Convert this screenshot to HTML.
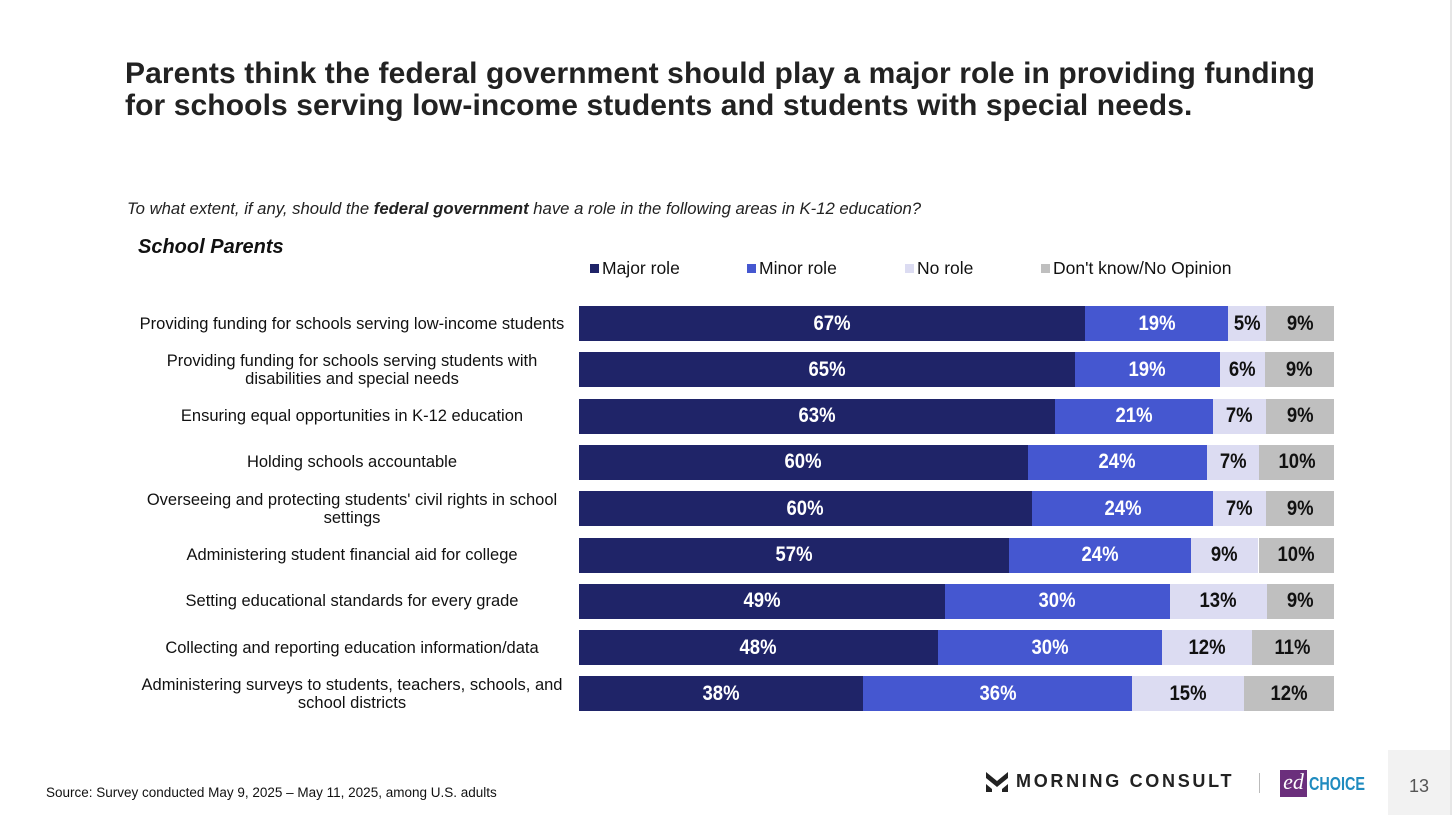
<!DOCTYPE html>
<html><head><meta charset="utf-8"><style>
body{margin:0;width:1456px;height:815px;background:#fff;font-family:"Liberation Sans",Arial,sans-serif;position:relative;overflow:hidden}
.abs{position:absolute}
.title{left:125px;top:58px;font-size:30px;font-weight:bold;color:#222;line-height:32px;white-space:nowrap;letter-spacing:0.1px}
.q{left:127px;top:199px;font-size:16.7px;font-style:italic;color:#222;white-space:nowrap}
.sub{left:138px;top:236px;font-size:20px;font-weight:bold;font-style:italic;color:#111}
.leg{top:258px;font-size:17.5px;color:#111;display:flex;align-items:center;white-space:nowrap}
.leg span{display:inline-block;width:9px;height:9px;margin-right:3px}
.cat{width:470px;left:117px;text-align:center;font-size:16.5px;color:#111;line-height:18px}
.seg{position:absolute;display:flex;align-items:center;justify-content:center;font-weight:bold;font-size:21px}
.seg i{font-style:normal;display:inline-block;transform:scaleX(0.88)}
</style></head><body>
<div class="abs title">Parents think the federal government should play a major role in providing funding<br>for schools serving low-income students and students with special needs.</div>
<div class="abs q">To what extent, if any, should the <b>federal government</b> have a role in the following areas in K-12 education?</div>
<div class="abs sub">School Parents</div>
<div class="abs leg" style="left:590px"><span style="background:#1f2468"></span>Major role</div>
<div class="abs leg" style="left:747px"><span style="background:#4557d0"></span>Minor role</div>
<div class="abs leg" style="left:905px"><span style="background:#dcdcf2"></span>No role</div>
<div class="abs leg" style="left:1041px"><span style="background:#bfbfbf"></span>Don't know/No Opinion</div>
<div id="chart"></div>
<div class="abs" style="left:46px;top:785px;font-size:13.5px;color:#111;white-space:nowrap">Source: Survey conducted May 9, 2025 – May 11, 2025, among U.S. adults</div>
<div class="abs" style="left:986px;top:771px;display:flex;align-items:center">
<svg width="22" height="20" viewBox="0 0 22 20"><path d="M0 0L11 9L22 0V6L11 15L0 6Z M0 12L6 17V20H0Z M22 12L16 17V20H22Z" fill="#222"/></svg>
<span style="font-size:18px;font-weight:bold;letter-spacing:2.7px;color:#222;margin-left:8px;white-space:nowrap">MORNING CONSULT</span></div>
<div class="abs" style="left:1259px;top:773px;width:1px;height:20px;background:#bbb"></div>
<div class="abs" style="left:1280px;top:770px;width:27px;height:27px;background:#6b2f7c;color:#fff;font-family:'Liberation Serif',serif;font-style:italic;font-size:22px;line-height:24px;text-align:center">ed</div>
<div class="abs" style="left:1309px;top:774px;color:#1f8bbf;font-weight:bold;font-size:18px;transform:scaleX(0.8);transform-origin:left">CHOICE</div>
<div class="abs" style="left:1388px;top:750px;width:62px;height:65px;background:#f2f2f2"></div>
<div class="abs" style="left:1450px;top:0;width:2px;height:815px;background:#e6e6e6"></div>
<div class="abs" style="left:1409px;top:776px;font-size:18px;color:#555">13</div>
<script>
const categories=["Providing funding for schools serving low-income students","Providing funding for schools serving students with disabilities and special needs","Ensuring equal opportunities in K-12 education","Holding schools accountable","Overseeing and protecting students' civil rights in school settings","Administering student financial aid for college","Setting educational standards for every grade","Collecting and reporting education information/data","Administering surveys to students, teachers, schools, and school districts"];
const catHtml=["Providing funding for schools serving low-income students","Providing funding for schools serving students with<br>disabilities and special needs","Ensuring equal opportunities in K-12 education","Holding schools accountable","Overseeing and protecting students' civil rights in school<br>settings","Administering student financial aid for college","Setting educational standards for every grade","Collecting and reporting education information/data","Administering surveys to students, teachers, schools, and<br>school districts"];
const major=[67,65,63,60,60,57,49,48,38];
const minor=[19,19,21,24,24,24,30,30,36];
const noRole=[5,6,7,7,7,9,13,12,15];
const dontKnow=[9,9,9,10,9,10,9,11,12];
const series=[major,minor,noRole,dontKnow];
const names=["major","minor","no-role","dont-know"];
const colors=["#1f2468","#4557d0","#dcdcf2","#bfbfbf"];
const txt=["#fff","#fff","#111","#111"];
const X0=579,W=755,Y0=306,STEP=46.3,H=35;
const c=document.getElementById('chart');
categories.forEach((cat,i)=>{
  const y=Y0+i*STEP;
  const l=document.createElement('div');
  l.className='abs cat';
  
  
  l.innerHTML=catHtml[i];
  c.appendChild(l);
  const lines=catHtml[i].includes('<br>')?2:1;
  l.style.top=(y+H/2-lines*9)+'px';
  const tot=series.reduce((s,a)=>s+a[i],0);
  let acc=0;
  series.forEach((a,k)=>{
    const s=document.createElement('div');
    s.className='seg';
    
    
    const x1=X0+W*acc/tot;acc+=a[i];const x2=X0+W*acc/tot;
    s.style.left=x1+'px';s.style.width=(x2-x1)+'px';s.style.top=y+'px';s.style.height=H+'px';
    s.style.background=colors[k];s.style.color=txt[k];
    s.innerHTML='<i>'+a[i]+'%</i>';
    c.appendChild(s);
  });
});
</script>
</body></html>
